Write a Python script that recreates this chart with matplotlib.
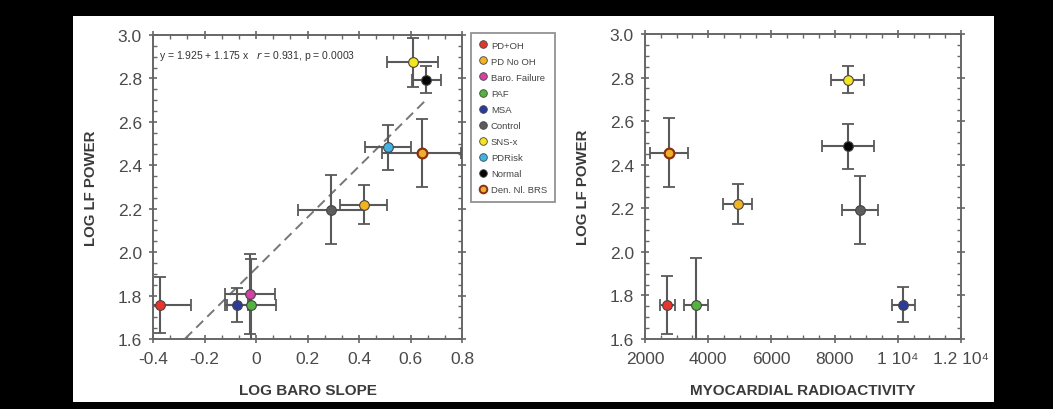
import matplotlib
matplotlib.use("Agg")
import matplotlib.pyplot as plt
from matplotlib.patches import Rectangle
from matplotlib.lines import Line2D
from matplotlib.ticker import MultipleLocator, FixedLocator

plt.rcParams['font.family'] = ['Liberation Sans', 'DejaVu Sans']

# ---------------- data ----------------
groups = ["PD+OH", "PD No OH", "Baro. Failure", "PAF", "MSA", "Control",
          "SNS-x", "PDRisk", "Normal", "Den. Nl. BRS"]
face_colors = ["#e8352b", "#f2b320", "#d83fa6", "#53b340", "#2a3b9a", "#5c5c5c",
               "#f4e421", "#42b2e2", "#050505", "#eeb02a"]
edge_colors = ["#444444"] * 9 + ["#8a3210"]

# left panel: log baro slope vs log LF power
left_groups = ["PD+OH", "MSA", "Baro. Failure", "PAF", "Control", "PD No OH",
               "PDRisk", "Den. Nl. BRS", "SNS-x", "Normal"]
left_x = [-0.371, -0.072, -0.024, -0.021, 0.291, 0.418, 0.514, 0.643, 0.608, 0.661]
left_xerr = [0.118, 0.040, 0.098, 0.098, 0.127, 0.090, 0.089, 0.153, 0.098, 0.057]
left_y = [1.757, 1.757, 1.807, 1.757, 2.196, 2.219, 2.483, 2.457, 2.874, 2.793]
left_yerr = [0.130, 0.080, 0.184, 0.210, 0.160, 0.090, 0.103, 0.157, 0.113, 0.062]

fit_intercept = 1.925
fit_slope = 1.175
fit_x = [-0.275, 0.661]
fit_text = "y = 1.925 + 1.175 x   $\\it{r}$ = 0.931, p = 0.0003"

# right panel: myocardial radioactivity vs log LF power
right_groups = ["PD+OH", "PAF", "Den. Nl. BRS", "PD No OH", "SNS-x", "Normal",
                "Control", "MSA"]
right_x = [2711, 3614, 2764, 4930, 8412, 8412, 8794, 10174]
right_xerr = [240, 380, 590, 460, 515, 823, 573, 370]
right_y = [1.758, 1.755, 2.456, 2.220, 2.790, 2.484, 2.192, 1.758]
right_yerr = [0.133, 0.215, 0.157, 0.090, 0.063, 0.105, 0.158, 0.079]

left_xticks = [-0.4, -0.2, 0, 0.2, 0.4, 0.6, 0.8]
left_xticklabels = ["-0.4", "-0.2", "0", "0.2", "0.4", "0.6", "0.8"]
right_xticks = [2000, 4000, 6000, 8000, 10000, 12000]
right_xticklabels = ["2000", "4000", "6000", "8000", "1 10\u2074", "1.2 10\u2074"]
yticks = [1.6, 1.8, 2.0, 2.2, 2.4, 2.6, 2.8, 3.0]
yticklabels = ["1.6", "1.8", "2.0", "2.2", "2.4", "2.6", "2.8", "3.0"]

# ---------------- figure ----------------
W, H = 1053, 410
fig = plt.figure(figsize=(W / 100, H / 100), dpi=100)
fig.patch.set_facecolor("black")
fig.patches.append(Rectangle((72.7 / W, 1 - 402.7 / H), (994 - 72.7) / W, (402.7 - 16.7) / H,
                             transform=fig.transFigure, facecolor="white",
                             edgecolor="none", zorder=-5))

def fpos(x0, x1, y0, y1):
    return [x0 / W, 1 - y1 / H, (x1 - x0) / W, (y1 - y0) / H]

axL = fig.add_axes(fpos(153, 462, 36, 340))
axR = fig.add_axes(fpos(645, 961, 35, 340))

ecol = "#595959"
axis_col = "#666666"
txt_col = "#3a3a3a"


def style(ax, xminor):
    for s in ax.spines.values():
        s.set_color(axis_col)
        s.set_linewidth(1.4)
    ax.set_facecolor("none")
    ax.yaxis.set_minor_locator(MultipleLocator(0.05))
    ax.xaxis.set_minor_locator(MultipleLocator(xminor))
    ax.tick_params(which="major", direction="inout", length=6, width=1.2,
                   color=axis_col, top=True, right=True, labelsize=12.5,
                   labelcolor="#4a4a4a")
    ax.tick_params(axis="x", which="major", pad=6)
    ax.tick_params(axis="y", which="major", pad=5)
    ax.tick_params(which="minor", direction="in", length=3, width=1.0,
                   color=axis_col, top=True, right=True)
    ax.set_yticks(yticks)
    ax.set_yticklabels(yticklabels)
    ax.set_ylim(1.6, 3.0)
    ax.set_ylabel("LOG LF POWER", fontsize=10.8, fontweight="bold", color=txt_col,
                  labelpad=14)


def draw(ax, gnames, xs, xe, ys, ye):
    for g, x, dx, y, dy in zip(gnames, xs, xe, ys, ye):
        i = groups.index(g)
        ax.errorbar(x, y, xerr=dx, yerr=dy, fmt="none", ecolor=ecol,
                    elinewidth=1.5, capsize=4, capthick=1.3, zorder=3)
        ax.plot(x, y, "o", markersize=7, markerfacecolor=face_colors[i],
                markeredgecolor=edge_colors[i],
                markeredgewidth=1.6 if g == "Den. Nl. BRS" else 0.8, zorder=4)


# left
style(axL, 0.2 / 3)
axL.set_xlim(-0.4, 0.8)
axL.set_xticks(left_xticks)
axL.set_xticklabels(left_xticklabels)
axL.set_xlabel("LOG BARO SLOPE", fontsize=11, fontweight="bold", color=txt_col,
               labelpad=12)
fy = [fit_intercept + fit_slope * v for v in fit_x]
axL.plot(fit_x, fy, linestyle=(0, (5, 3)), color="#777777", linewidth=1.4, zorder=2)
draw(axL, left_groups, left_x, left_xerr, left_y, left_yerr)
axL.text(0.02, 0.935, fit_text, transform=axL.transAxes, fontsize=7.5,
         color="#333333", va="center", ha="left")

# right
style(axR, 500)
axR.set_xlim(2000, 12000)
axR.xaxis.set_major_locator(FixedLocator(right_xticks))
axR.set_xticklabels(right_xticklabels)
axR.set_xlabel("MYOCARDIAL RADIOACTIVITY", fontsize=11, fontweight="bold",
               color=txt_col, labelpad=12)
draw(axR, right_groups, right_x, right_xerr, right_y, right_yerr)

# legend
handles = [Line2D([], [], linestyle="none", marker="o", markersize=5.5,
                  markerfacecolor=face_colors[i], markeredgecolor=edge_colors[i],
                  markeredgewidth=1.4 if groups[i] == "Den. Nl. BRS" else 0.6)
           for i in range(len(groups))]
leg = fig.legend(handles, groups, loc="upper left",
                 bbox_to_anchor=(471 / W, 1 - 34 / H), bbox_transform=fig.transFigure,
                 borderaxespad=0, fontsize=6.8, labelspacing=0.75, handletextpad=0.3,
                 handlelength=1.0, borderpad=0.8, fancybox=False, frameon=True)
leg.get_frame().set_edgecolor("#777777")
leg.get_frame().set_linewidth(1.3)
for t in leg.get_texts():
    t.set_color("#444444")

fig.savefig("out.png", dpi=100, facecolor=fig.get_facecolor())
